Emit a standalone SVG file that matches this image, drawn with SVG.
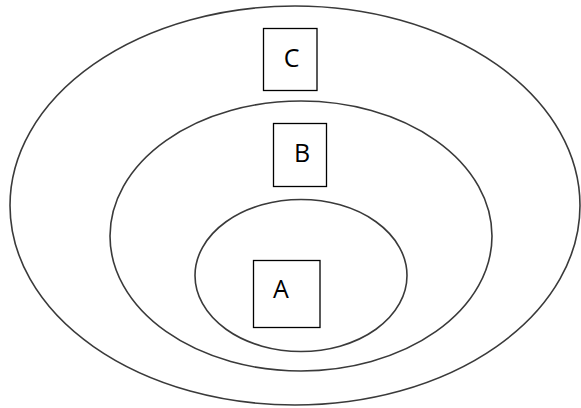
<svg xmlns="http://www.w3.org/2000/svg" width="581" height="408" viewBox="0 0 581 408">
<style>
.ring{fill:none;stroke:#3a3a3a;stroke-width:1.6}
.box{fill:#fff;stroke:#000;stroke-width:1.3}
.lbl{font-family:"Open Sans","Liberation Sans",sans-serif;font-size:25px;fill:#000;text-anchor:middle}
</style>
<rect width="581" height="408" fill="#fff"/>
<g id="ring-C"><ellipse class="ring" cx="295" cy="205.5" rx="285" ry="199.5"/></g>
<g id="ring-B"><ellipse class="ring" cx="301" cy="236" rx="191" ry="135"/></g>
<g id="ring-A"><ellipse class="ring" cx="301" cy="275.5" rx="106" ry="76"/></g>
<g id="node-C"><rect class="box" x="263.5" y="28.5" width="53.5" height="62"/><text class="lbl" x="291.5" y="67">C</text></g>
<g id="node-B"><rect class="box" x="273.5" y="123.5" width="53" height="63"/><text class="lbl" x="302" y="162">B</text></g>
<g id="node-A"><rect class="box" x="253.5" y="260.5" width="66.5" height="67"/><text class="lbl" x="281" y="298">A</text></g>
<g id="connectors"></g>
</svg>
